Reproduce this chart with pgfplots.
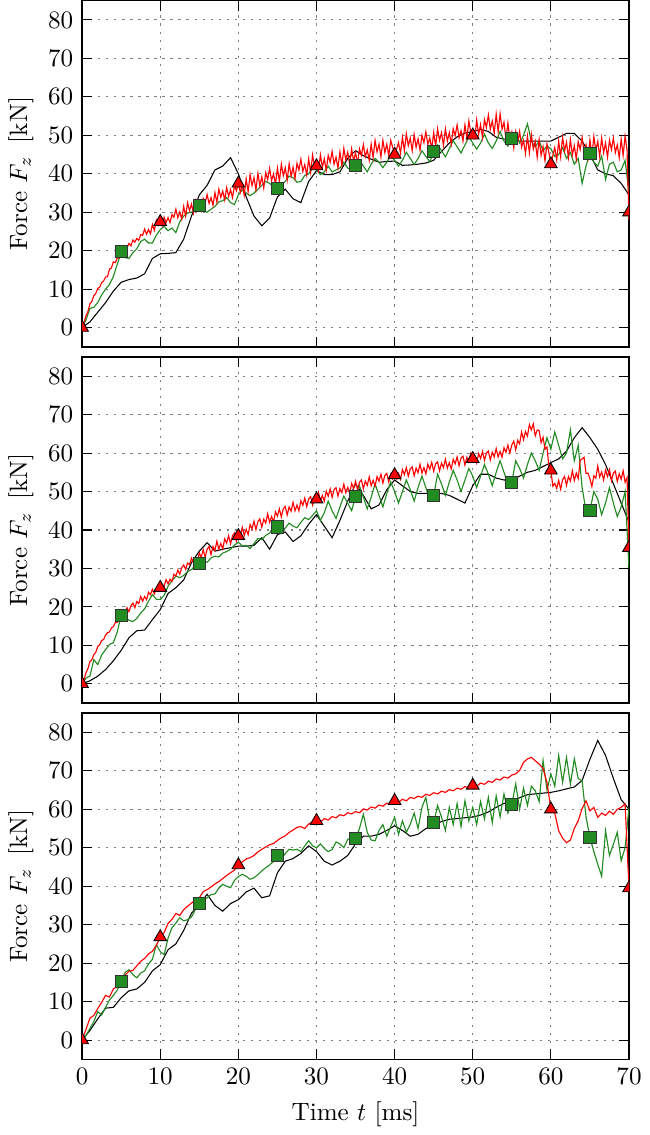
\documentclass[border=0pt]{standalone}
\usepackage{pgfplots}
\usepackage{pgfplotstable}
\pgfplotsset{compat=1.18}
\usetikzlibrary{calc}
\definecolor{fgreen}{HTML}{228B22}

% top panel: red at 0.25 ms
\pgfplotstableread{
t r
0 0
0.25 1.4
0.5 3.1
0.75 4.2
1 6.2
1.25 6.8
1.5 8.3
1.75 8.9
2 10.2
2.25 10.5
2.5 11.7
2.75 12.1
3 13.2
3.25 13.2
3.5 15.2
3.75 15.5
4 17.1
4.25 16.9
4.5 18.1
4.75 18.1
5 20.0
5.25 19.4
5.5 21.2
5.75 20.8
6 21.9
6.25 21.3
6.5 22.8
6.75 22.2
7 23.2
7.25 22.7
7.5 24.2
7.75 24.0
8 25.6
8.25 24.3
8.5 25.5
8.75 24.4
9 26.8
9.25 25.3
9.5 27.9
9.75 26.6
10 27.5
10.25 26.4
10.5 28.7
10.75 27.3
11 28.6
11.25 27.3
11.5 29.4
11.75 28.7
12 30.8
12.25 28.6
12.5 30.1
12.75 28.2
13 31.5
13.25 29.0
13.5 32.5
13.75 30.4
14 32.1
14.25 29.8
14.5 33.0
14.75 30.7
15 32.5
15.25 30.5
15.5 33.6
15.75 32.4
16 34.6
16.25 32.3
16.5 33.8
16.75 31.8
17 35.1
17.25 32.6
17.5 36.0
17.75 33.9
18 35.5
18.25 33.2
18.5 36.4
18.75 34.1
19 35.9
19.25 33.8
19.5 36.9
19.75 35.6
20 37.5
20.25 35.2
20.5 37.1
20.75 34.4
21 38.7
21.25 35.3
21.5 39.8
21.75 36.9
22 39.0
22.25 35.8
22.5 40.1
22.75 36.9
23 39.2
23.25 36.3
23.5 40.3
23.75 38.5
24 41.4
24.25 38.2
24.5 40.0
24.75 37.3
25 41.5
25.25 38.0
25.5 42.5
25.75 39.5
26 41.6
26.25 38.4
26.5 42.6
26.75 39.4
27 41.7
27.25 38.8
27.5 42.7
27.75 41.0
28 43.8
28.25 40.6
28.5 42.4
28.75 39.6
29 43.9
29.25 40.4
29.5 44.9
29.75 41.9
30 42.0
30.25 40.7
30.5 44.9
30.75 41.7
31 43.9
31.25 40.9
31.5 44.8
31.75 43.0
32 45.8
32.25 42.5
32.5 44.3
32.75 41.5
33 45.7
33.25 42.2
33.5 46.6
33.75 43.6
34 45.6
34.25 42.3
34.5 46.5
34.75 43.3
35 45.5
35.25 42.6
35.5 46.5
35.75 44.8
36 47.6
36.25 44.4
36.5 46.2
36.75 43.5
37 47.7
37.25 44.2
37.5 48.7
37.75 45.7
38 47.7
38.25 44.4
38.5 48.7
38.75 45.5
39 47.7
39.25 44.7
39.5 48.7
39.75 46.9
40 45.0
40.25 46.4
40.5 48.1
40.75 45.3
41 49.5
41.25 46.0
41.5 50.4
41.75 47.3
42 49.3
42.25 46.0
42.5 50.2
42.75 46.9
43 49.1
43.25 46.1
43.5 50.0
43.75 48.1
44 50.9
44.25 47.6
44.5 49.3
44.75 46.5
45 50.7
45.25 47.2
45.5 51.7
45.75 48.7
46 50.7
46.25 47.4
46.5 51.7
46.75 48.5
47 50.7
47.25 47.7
47.5 51.7
47.75 49.9
48 52.7
48.25 49.4
48.5 51.2
48.75 48.5
49 52.7
49.25 49.2
49.5 53.7
49.75 50.7
50 50.0
50.25 49.1
50.5 54.0
50.75 50.2
51 52.8
51.25 49.4
51.5 54.1
51.75 52.0
52 55.3
52.25 51.6
52.5 53.7
52.75 50.5
53 55.5
53.25 50.9
53.5 55.6
53.75 51.6
54 53.4
54.25 49.0
54.5 53.2
54.75 48.8
55 50.8
55.25 46.8
55.5 50.9
55.75 48.3
56 51.0
56.25 46.9
56.5 48.7
56.75 45.2
57 49.8
57.25 45.4
57.5 50.2
57.75 46.4
58 48.4
58.25 44.3
58.5 48.9
58.75 44.8
59 47.1
59.25 43.4
59.5 47.8
59.75 45.5
60 42.5
60.25 44.7
60.5 46.8
60.75 43.6
61 48.5
61.25 44.4
61.5 49.5
61.75 45.9
62 48.2
62.25 44.2
62.5 48.9
62.75 44.9
63 47.3
63.25 43.8
63.5 48.4
63.75 46.3
64 49.5
64.25 45.5
64.5 47.5
64.75 44.1
65 48.8
65.25 44.6
65.5 49.7
65.75 46.1
66 48.4
66.25 44.5
66.5 49.3
66.75 45.5
67 48.0
67.25 44.3
67.5 48.7
67.75 46.3
68 49.3
68.25 45.5
68.5 47.5
68.75 44.2
69 49.0
69.25 44.8
69.5 49.8
69.75 46.2
70 28.0
}\redA
% top panel: green at 0.5 ms
\pgfplotstableread{
t g
0 0
0.5 2.0
1 5.0
1.5 5.3
2 6.5
2.5 8.5
3 10.0
3.5 11.2
4 13.3
4.5 16.5
5 19.5
5.5 18.2
6 18.0
6.5 19.5
7 20.5
7.5 22.4
8 23.0
8.5 22.0
9 22.0
9.5 24.0
10 25.5
10.5 26.3
11 25.2
11.5 25.9
12 24.7
12.5 27.5
13 29.0
13.5 29.8
14 30.0
14.5 31.2
15 31.5
15.5 30.4
16 30.0
16.5 30.8
17 31.5
17.5 32.7
18 33.0
18.5 33.8
19 32.5
19.5 32.0
20 34.5
20.5 35.8
21 35.0
21.5 34.3
22 35.0
22.5 36.0
23 37.0
23.5 38.0
24 37.5
24.5 36.6
25 36.5
25.5 37.2
26 38.0
26.5 39.4
27 39.0
27.5 37.8
28 38.0
28.5 39.6
29 40.0
29.5 41.5
30 41.0
30.5 39.8
31 40.5
31.5 42.0
32 40.5
32.5 41.0
33 41.5
33.5 43.0
34 41.5
34.5 40.8
35 42.0
35.5 43.5
36 42.0
36.5 40.5
37 42.5
37.5 44.0
38 43.0
38.5 41.6
39 43.0
39.5 44.8
40 43.5
40.5 42.0
41 43.5
41.5 45.6
42 44.0
42.5 42.4
43 44.0
43.5 46.0
44 44.5
44.5 43.2
45 45.5
45.5 47.5
46 46.0
46.5 44.4
47 46.5
47.5 48.6
48 47.0
48.5 45.4
49 47.5
49.5 49.6
50 48.0
50.5 46.4
51 48.0
51.5 50.3
52 48.0
52.5 46.6
53 48.5
53.5 51.0
54 48.5
54.5 47.2
55 49.0
55.5 50.5
56 48.0
56.5 50.0
57 53.0
57.5 48.5
58 47.0
58.5 48.5
59 46.0
59.5 47.2
60 46.5
60.5 44.5
61 45.0
61.5 46.8
62 44.0
62.5 45.5
63 42.5
63.5 44.0
64 37.5
64.5 42.0
65 45.5
65.5 43.0
66 42.0
66.5 44.6
67 38.5
67.5 42.5
68 43.0
68.5 40.5
69 41.0
69.5 43.5
70 35.0
}\grnA
\pgfplotstableread{
t k
0 0
1 1.5
2 4
3 6.5
4 9.5
5 11.8
6 12.5
7 12.9
8 14
9 18
10 19.2
11 19.3
12 19.5
13 23
14 29
15 34.5
16 37
17 41
18 42
19 44.2
20 40
21 34
22 29
23 26.5
24 28.5
25 34
26 36
27 33.5
28 32.5
29 38
30 40.8
31 39.8
32 39.8
33 40.5
34 44
35 46
36 44.7
37 43.8
38 43
39 43.2
40 43.3
41 42.2
42 42.3
43 42.5
44 42.8
45 43.5
46 45.8
47 48
48 49.6
49 50.6
50 51
51 51.5
52 51
53 49.5
54 49
55 49
56 48.5
57 48.5
58 48.5
59 48.5
60 48.5
61 49.5
62 50.5
63 50.5
64 48.5
65 45
66 41
67 40
68 39.5
69 37.5
70 34.5
}\blkA

% middle panel: red at 0.25 ms
\pgfplotstableread{
t r
0 0
0.25 1.1
0.5 2.9
0.75 4.0
1 5.8
1.25 6.3
1.5 7.6
1.75 8.2
2 9.7
2.25 10.2
2.5 11.3
2.75 11.5
3 12.7
3.25 13.3
3.5 13.5
3.75 14.5
4 14.9
4.25 15.9
4.5 16.0
4.75 17.0
5 16.6
5.25 18.6
5.5 18.2
5.75 19.8
6 18.8
6.25 20.3
6.5 21.0
6.75 19.8
7 21.4
7.25 20.9
7.5 22.7
7.75 21.5
8 22.7
8.25 21.9
8.5 23.8
8.75 23.2
9 24.6
9.25 23.4
9.5 24.9
9.75 25.4
10 25.0
10.25 25.8
10.5 25.4
10.75 27.1
11 26.0
11.25 27.2
11.5 26.6
11.75 28.5
12 28.0
12.25 29.6
12.5 28.5
12.75 30.2
13 30.9
13.25 29.8
13.5 31.4
13.75 31.0
14 32.7
14.25 31.5
14.5 32.6
14.75 31.8
15 34.0
15.25 32.9
15.5 34.9
15.75 32.9
16 35.0
16.25 35.7
16.5 33.6
16.75 35.7
17 34.7
17.25 37.1
17.5 35.0
17.75 36.5
18 35.1
18.25 37.7
18.5 36.6
18.75 38.5
19 36.4
19.25 38.5
19.5 39.2
19.75 37.1
20 38.5
20.25 38.3
20.5 40.7
20.75 38.6
21 40.2
21.25 38.8
21.5 41.4
21.75 40.3
22 42.3
22.25 40.1
22.5 42.2
22.75 42.9
23 40.7
23.25 42.8
23.5 41.8
23.75 44.2
24 42.0
24.25 43.5
24.5 42.1
24.75 44.7
25 43.6
25.25 45.5
25.5 43.4
25.75 45.5
26 46.1
26.25 43.9
26.5 46.0
26.75 44.9
27 47.2
27.25 45.0
27.5 46.5
27.75 45.0
28 47.6
28.25 46.4
28.5 48.3
28.75 46.1
29 48.1
29.25 48.7
29.5 46.5
29.75 48.6
30 48.0
30.25 49.8
30.5 47.6
30.75 49.0
31 47.5
31.25 50.1
31.5 48.8
31.75 50.7
32 48.5
32.25 50.5
32.5 51.0
32.75 48.8
33 50.8
33.25 49.7
33.5 51.9
33.75 49.7
34 51.1
34.25 49.6
34.5 52.1
34.75 50.8
35 52.7
35.25 50.4
35.5 52.4
35.75 53.0
36 50.7
36.25 52.7
36.5 51.6
36.75 53.8
37 51.5
37.25 52.9
37.5 51.4
37.75 53.9
38 52.7
38.25 54.5
38.5 52.2
38.75 54.2
39 54.7
39.25 52.5
39.5 54.5
39.75 53.3
40 54.3
40.25 53.3
40.5 54.7
40.75 53.2
41 55.7
41.25 54.4
41.5 56.2
41.75 54.0
42 55.9
42.25 56.4
42.5 54.1
42.75 56.1
43 54.9
43.25 57.1
43.5 54.8
43.75 56.2
44 54.6
44.25 57.1
44.5 55.8
44.75 57.6
45 55.3
45.25 57.2
45.5 57.7
45.75 55.4
46 57.4
46.25 56.2
46.5 58.4
46.75 56.1
47 57.5
47.25 55.9
47.5 58.4
47.75 57.2
48 59.0
48.25 56.7
48.5 58.7
48.75 59.2
49 56.9
49.25 58.9
49.5 57.7
49.75 59.9
50 58.5
50.25 59.0
50.5 57.4
50.75 59.9
51 58.6
51.25 60.4
51.5 58.1
51.75 60.0
52 60.5
52.25 58.2
52.5 60.2
52.75 59.0
53 61.2
53.25 59.0
53.5 60.4
53.75 58.9
54 61.4
54.25 60.2
54.5 62.1
54.75 60.0
55 62.1
55.25 63.1
55.5 60.8
55.75 63.3
56 62.4
56.25 65.5
56.5 63.5
56.75 65.6
57 64.4
57.25 67.4
57.5 66.0
57.75 67.6
58 64.5
58.25 66.0
58.5 65.9
58.75 62.7
59 64.1
59.25 61.0
59.5 61.6
59.75 56.4
60 55.5
60.25 51.4
60.5 52.1
60.75 50.8
61 52.9
61.25 50.6
61.5 53.1
61.75 53.9
62 51.6
62.25 53.9
62.5 52.7
62.75 55.4
63 52.9
63.25 54.8
63.5 53.4
63.75 58.1
64 58.5
64.25 58.9
64.5 54.7
64.75 54.8
65 53.3
65.25 51.3
65.5 54.1
65.75 53.5
66 56.6
66.25 53.8
66.5 55.1
66.75 53.0
67 55.6
67.25 53.9
67.5 55.7
67.75 52.8
68 54.8
68.25 55.3
68.5 52.6
68.75 54.6
69 53.2
69.25 55.4
69.5 52.4
69.75 53.6
70 35.4
}\redB
% middle panel: green at 0.5 ms
\pgfplotstableread{
t g
0 0
0.5 1.5
1 2.0
1.5 6.3
2 5.0
2.5 7.5
3 8.9
3.5 10.2
4 10.7
4.5 13.5
5 17.8
5.5 17.4
6 16.5
6.5 16.2
7 17.0
7.5 18.4
8 19.5
8.5 21.5
9 23.2
9.5 22.0
10 21.9
10.5 23.0
11 25.4
11.5 26.8
12 28.0
12.5 27.6
13 28.2
13.5 29.2
14 29.7
14.5 30.8
15 31.4
15.5 32.0
16 31.6
16.5 32.7
17 33.2
17.5 33.0
18 34.0
18.5 34.4
19 35.0
19.5 36.1
20 36.8
20.5 35.9
21 36.0
21.5 35.2
22 36.5
22.5 37.8
23 37.5
23.5 38.6
24 39.2
24.5 40.8
25 41.0
25.5 39.6
26 40.5
26.5 41.8
27 41.0
27.5 40.6
28 42.0
28.5 43.2
29 42.7
29.5 43.8
30 45.0
30.5 42.5
31 44.5
31.5 47.5
32 45.0
32.5 43.0
33 46.0
33.5 48.8
34 47.0
34.5 45.0
35 48.8
35.5 51.5
36 48.5
36.5 45.5
37 48.5
37.5 52.0
38 49.0
38.5 46.0
39 49.5
39.5 52.5
40 50.0
40.5 47.0
41 50.0
41.5 53.0
42 50.5
42.5 47.5
43 51.0
43.5 54.0
44 51.0
44.5 48.0
45 49.0
45.5 54.5
46 52.0
46.5 49.0
47 52.5
47.5 55.5
48 53.0
48.5 50.0
49 53.0
49.5 56.0
50 54.0
50.5 51.0
51 54.0
51.5 57.0
52 54.5
52.5 51.5
53 55.0
53.5 58.0
54 55.0
54.5 52.0
55 52.4
55.5 58.0
56 56.0
56.5 53.5
57 57.0
57.5 60.0
58 58.0
58.5 55.5
59 60.0
59.5 64.0
60 61.0
60.5 65.5
61 62.0
61.5 58.5
62 60.0
62.5 66.0
63 58.0
63.5 62.0
64 51.0
64.5 45.0
65 45.1
65.5 50.0
66 48.0
66.5 44.0
67 47.0
67.5 51.0
68 47.0
68.5 43.5
69 46.0
69.5 50.0
70 30.0
}\grnB
\pgfplotstableread{
t k
0 0
1 0.8
2 2
3 3.7
4 6
5 8.7
6 12
7 13.8
8 14
9 16.7
10 19.3
11 23.5
12 25
13 27
14 31.5
15 34.5
16 36.7
17 34.5
18 35
19 35.4
20 35.8
21 35.8
22 36
23 38
24 35
25 38.8
26 39.5
27 37
28 38.5
29 41.5
30 44
31 41
32 38
33 42.5
34 47.5
35 52
36 49
37 45.5
38 46.5
39 50.5
40 53
41 51.5
42 50
43 49.5
44 49.5
45 49.5
46 49.5
47 49
48 48
49 47
50 51.5
51 54.5
52 54.5
53 53.5
54 53
55 53
56 54
57 55
58 55.5
59 56.5
60 57.5
61 58.5
62 60.5
63 64
64 66.6
65 64
66 61
67 57
68 52
69 47
70 42
}\blkB

% bottom panel: red and green at 0.5 ms
\pgfplotstableread{
t r g
0 0 0
0.5 2.8 1.2
1 5.7 3.0
1.5 6.4 4.8
2 8.2 7.4
2.5 9.8 6.5
3 11.6 8.5
3.5 11.2 10.4
4 13.3 11.6
4.5 13.9 13.0
5 15.4 15.2
5.5 16.9 17.6
6 17.9 18.3
6.5 18.1 17.0
7 19.3 16.2
7.5 20.5 17.4
8 21.2 18.0
8.5 22.4 19.8
9 23.1 21.0
9.5 24.6 24.8
10 26.8 23.0
10.5 28.0 22.2
11 30.3 26.5
11.5 31.4 29.2
12 32.9 30.4
12.5 32.4 31.8
13 33.9 31.0
13.5 34.8 31.3
14 35.6 32.0
14.5 36.4 34.0
15 37.0 35.2
15.5 38.6 36.2
16 39.1 37.0
16.5 39.8 37.8
17 40.6 38.0
17.5 41.2 39.5
18 42.0 40.5
18.5 42.8 40.0
19 43.5 39.6
19.5 44.2 41.5
20 45.7 42.5
20.5 46.3 43.1
21 47.1 42.6
21.5 47.4 41.8
22 48.0 42.2
22.5 48.9 43.0
23 49.6 44.0
23.5 50.2 44.8
24 50.8 45.5
24.5 51.1 46.5
25 51.9 48.0
25.5 52.6 47.0
26 53.1 48.5
26.5 54.0 49.6
27 54.6 49.4
27.5 55.3 49.6
28 55.5 49.0
28.5 55.0 50.5
29 56.2 51.8
29.5 56.6 50.5
30 57.0 50.0
30.5 56.6 51.0
31 57.6 49.8
31.5 57.2 49.0
32 58.1 49.5
32.5 57.8 51.5
33 58.6 51.0
33.5 58.3 50.0
34 59.1 52.2
34.5 58.8 52.5
35 59.4 52.4
35.5 59.1 55.0
36 60.1 58.7
36.5 59.8 54.0
37 60.6 52.0
37.5 60.3 51.8
38 61.1 54.5
38.5 60.8 56.0
39 61.6 53.0
39.5 61.3 55.5
40 62.2 57.9
40.5 61.8 53.5
41 62.6 57.0
41.5 62.2 54.0
42 63.1 56.1
42.5 62.8 59.0
43 63.4 55.0
43.5 63.1 60.5
44 63.9 63.1
44.5 63.6 57.0
45 64.3 56.5
45.5 64.0 61.0
46 64.7 58.0
46.5 64.4 54.5
47 65.1 60.5
47.5 64.8 56.0
48 65.5 61.5
48.5 65.2 55.5
49 65.9 62.2
49.5 65.6 57.0
50 66.2 60.5
50.5 66.0 56.0
51 66.8 62.0
51.5 66.5 57.5
52 67.3 63.1
52.5 67.0 56.5
53 67.9 63.5
53.5 67.6 58.0
54 68.4 64.0
54.5 68.1 59.0
55 68.9 61.3
55.5 69.2 66.6
56 70.1 60.0
56.5 72.2 65.5
57 73.1 61.0
57.5 73.5 66.0
58 72.6 64.8
58.5 71.8 62.0
59 70.6 72.7
59.5 67.0 65.0
60 60.0 69.2
60.5 59.0 66.0
61 54.4 74.0
61.5 52.5 67.0
62 51.3 73.5
62.5 52.0 66.5
63 55.0 73.1
63.5 57.0 68.0
64 60.2 67.4
64.5 62.2 58.0
65 59.6 52.7
65.5 60.5 49.0
66 57.9 45.7
66.5 59.0 42.6
67 58.4 54.4
67.5 59.5 48.0
68 58.7 50.9
68.5 60.0 54.0
69 60.5 46.6
69.5 61.4 50.0
70 39.5 60.5
}\tabC
\pgfplotstableread{
t k
0 0
1 2.5
2 5.5
3 8.3
4 8.5
5 11
6 12.8
7 13.3
8 15
9 18
10 19.6
11 23.5
12 25
13 28.5
14 33
15 35.2
16 37.9
17 35
18 33.5
19 35.5
20 36.5
21 38.5
22 39.5
23 37
24 37.5
25 43.5
26 46.5
27 47.2
28 48.5
29 50.5
30 49
31 46.5
32 45.5
33 46.5
34 48
35 51
36 53
37 53
38 53.5
39 54.5
40 55.7
41 54.5
42 53
43 53.5
44 55
45 56
46 56.8
47 57.4
48 57.6
49 57.8
50 58
51 58.5
52 59.3
53 60.5
54 61.5
55 62.2
56 63
57 63.8
58 64
59 64.2
60 64.4
61 64.8
62 65.3
63 65.8
64 67.5
65 73
66 77.9
67 74
68 68
69 62.5
70 60
}\blkC

\pgfplotsset{
  forceaxis/.style={
    width=218pt, height=138pt, scale only axis,
    xmin=0, xmax=70, ymin=-5, ymax=85,
    xtick={0,10,...,70}, ytick={0,10,...,80},
    tick align=inside, tick pos=both,
    major tick length=4pt,
    axis line style={line width=0.55pt},
    every tick/.style={black, line width=0.45pt},
    grid=major,
    grid style={gray, line width=0.4pt, dash pattern=on 0.9pt off 2.3pt},
    ylabel={Force $F_z$\, [kN]},
    ylabel style={yshift=-1pt},
    clip marker paths=true,
  },
  blk/.style={black, line width=0.42pt},
  grn/.style={fgreen, line width=0.45pt},
  rd/.style={red, line width=0.45pt},
  tri/.style={only marks, mark=triangle*, mark size=2.9pt,
    mark options={fill=red, draw=black, line width=0.35pt}},
  sq/.style={only marks, mark=square*, mark size=2.4pt,
    mark options={fill=fgreen, draw=black!80, line width=0.35pt}},
}

\begin{document}
\begin{tikzpicture}
\begin{axis}[forceaxis, name=top, xticklabels={}]
\addplot[blk] table[x=t, y=k] {\blkA};
\addplot[grn] table[x=t, y=g] {\grnA};
\addplot[rd] table[x=t, y=r] {\redA};
\addplot[sq] coordinates {(5,19.8) (15,31.8) (25,36.3) (35,42.2) (45,45.7) (55,49.2) (65,45.3)};
\addplot[tri] coordinates {(0,0) (10,27.5) (20,37.5) (30,42) (40,45) (50,50) (60,42.5) (70,30)};
\end{axis}

\begin{axis}[forceaxis, name=mid, at={($(top.south west)+(0,-4pt)$)}, anchor=north west, xticklabels={}]
\addplot[blk] table[x=t, y=k] {\blkB};
\addplot[grn] table[x=t, y=g] {\grnB};
\addplot[rd] table[x=t, y=r] {\redB};
\addplot[sq] coordinates {(5,17.8) (15,31.4) (25,40.8) (35,48.8) (45,49) (55,52.4) (65,45.1)};
\addplot[tri] coordinates {(0,0) (10,25) (20,38.5) (30,48) (40,54.3) (50,58.5) (60,55.5) (70,35.4)};
\end{axis}

\begin{axis}[forceaxis, name=bot, at={($(mid.south west)+(0,-4pt)$)}, anchor=north west,
  xlabel={Time $t$ [ms]}]
\addplot[blk] table[x=t, y=k] {\blkC};
\addplot[grn] table[x=t, y=g] {\tabC};
\addplot[rd] table[x=t, y=r] {\tabC};
\addplot[sq] coordinates {(5,15.2) (15,35.4) (25,48) (35,52.4) (45,56.5) (55,61.3) (65,52.7)};
\addplot[tri] coordinates {(0,0) (10,26.8) (20,45.5) (30,57) (40,62.2) (50,66.2) (60,60) (70,39.5)};
\end{axis}
\end{tikzpicture}
\end{document}
